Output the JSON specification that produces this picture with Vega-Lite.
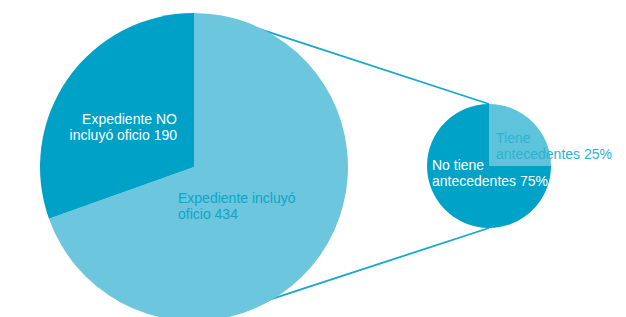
{
  "$schema": "https://vega.github.io/schema/vega-lite/v6.json",
  "width": 626,
  "height": 317,
  "autosize": {"type": "none"},
  "padding": 0,
  "background": "#ffffff",
  "config": {"view": {"stroke": null}, "text": {"font": "Liberation Sans", "fontSize": 14, "lineHeight": 16}},
  "resolve": {"scale": {"x": "independent", "y": "independent"}},
  "layer": [
    {
      "data": {"values": [{"conector": "superior"}]},
      "mark": {"type": "rule", "color": "#17a8cc", "strokeWidth": 1.8},
      "encoding": {
        "x": {"datum": 250, "type": "quantitative", "scale": {"domain": [0, 626], "range": [0, 626]}, "axis": null},
        "y": {"datum": 26, "type": "quantitative", "scale": {"domain": [0, 317], "range": [0, 317]}, "axis": null},
        "x2": {"datum": 489},
        "y2": {"datum": 104}
      }
    },
    {
      "data": {"values": [{"conector": "inferior"}]},
      "mark": {"type": "rule", "color": "#17a8cc", "strokeWidth": 1.8},
      "encoding": {
        "x": {"datum": 250, "type": "quantitative", "scale": {"domain": [0, 626], "range": [0, 626]}, "axis": null},
        "y": {"datum": 306, "type": "quantitative", "scale": {"domain": [0, 317], "range": [0, 317]}, "axis": null},
        "x2": {"datum": 489},
        "y2": {"datum": 228}
      }
    },
    {
      "data": {"values": [
        {"grupo": "Expediente", "categoria": "Expediente incluyó oficio", "valor": 434, "orden": 1, "etiqueta": "Expediente incluyó\noficio 434"},
        {"grupo": "Expediente", "categoria": "Expediente NO incluyó oficio", "valor": 190, "orden": 2, "etiqueta": "Expediente NO\nincluyó oficio 190"},
        {"grupo": "Antecedentes", "categoria": "Tiene antecedentes", "valor": 25, "orden": 1, "etiqueta": "Tiene\nantecedentes 25%"},
        {"grupo": "Antecedentes", "categoria": "No tiene antecedentes", "valor": 75, "orden": 2, "etiqueta": "No tiene\nantecedentes 75%"}
      ]},
      "encoding": {
        "x": {"field": "grupo", "type": "nominal", "scale": {"type": "point", "padding": 0, "domain": ["Expediente", "Antecedentes"], "range": [194, 489]}, "axis": null},
        "y": {"field": "grupo", "type": "nominal", "scale": {"type": "point", "padding": 0, "domain": ["Expediente", "Antecedentes"], "range": [167, 166]}, "axis": null}
      },
      "layer": [
        {
          "transform": [{"filter": "datum.grupo === 'Expediente'"}],
          "mark": {"type": "arc", "radius": 154},
          "encoding": {
            "theta": {"field": "valor", "type": "quantitative", "stack": "normalize"},
            "order": {"field": "orden", "type": "quantitative"},
            "color": {"field": "categoria", "type": "nominal", "legend": null,
              "scale": {"domain": ["Expediente incluyó oficio", "Expediente NO incluyó oficio", "Tiene antecedentes", "No tiene antecedentes"],
                        "range": ["#6cc6de", "#00a1c6", "#5ec4dc", "#00a2c7"]}}
          }
        },
        {
          "transform": [{"filter": "datum.grupo === 'Antecedentes'"}],
          "mark": {"type": "arc", "radius": 62},
          "encoding": {
            "theta": {"field": "valor", "type": "quantitative", "stack": "normalize"},
            "order": {"field": "orden", "type": "quantitative"},
            "color": {"field": "categoria", "type": "nominal", "legend": null}
          }
        },
        {
          "transform": [{"filter": "datum.categoria === 'Expediente NO incluyó oficio'"}],
          "mark": {"type": "text", "align": "right", "baseline": "alphabetic", "lineBreak": "\n", "dx": -17, "dy": -43, "color": "#ffffff"},
          "encoding": {"text": {"field": "etiqueta"}}
        },
        {
          "transform": [{"filter": "datum.categoria === 'Expediente incluyó oficio'"}],
          "mark": {"type": "text", "align": "left", "baseline": "alphabetic", "lineBreak": "\n", "dx": -16, "dy": 36, "color": "#0fa4c8"},
          "encoding": {"text": {"field": "etiqueta"}}
        },
        {
          "transform": [{"filter": "datum.categoria === 'Tiene antecedentes'"}],
          "mark": {"type": "text", "align": "left", "baseline": "alphabetic", "lineBreak": "\n", "dx": 7, "dy": -23, "color": "#2eb0d4"},
          "encoding": {"text": {"field": "etiqueta"}}
        },
        {
          "transform": [{"filter": "datum.categoria === 'No tiene antecedentes'"}],
          "mark": {"type": "text", "align": "left", "baseline": "alphabetic", "lineBreak": "\n", "dx": -57, "dy": 4, "color": "#ffffff"},
          "encoding": {"text": {"field": "etiqueta"}}
        }
      ]
    }
  ]
}
